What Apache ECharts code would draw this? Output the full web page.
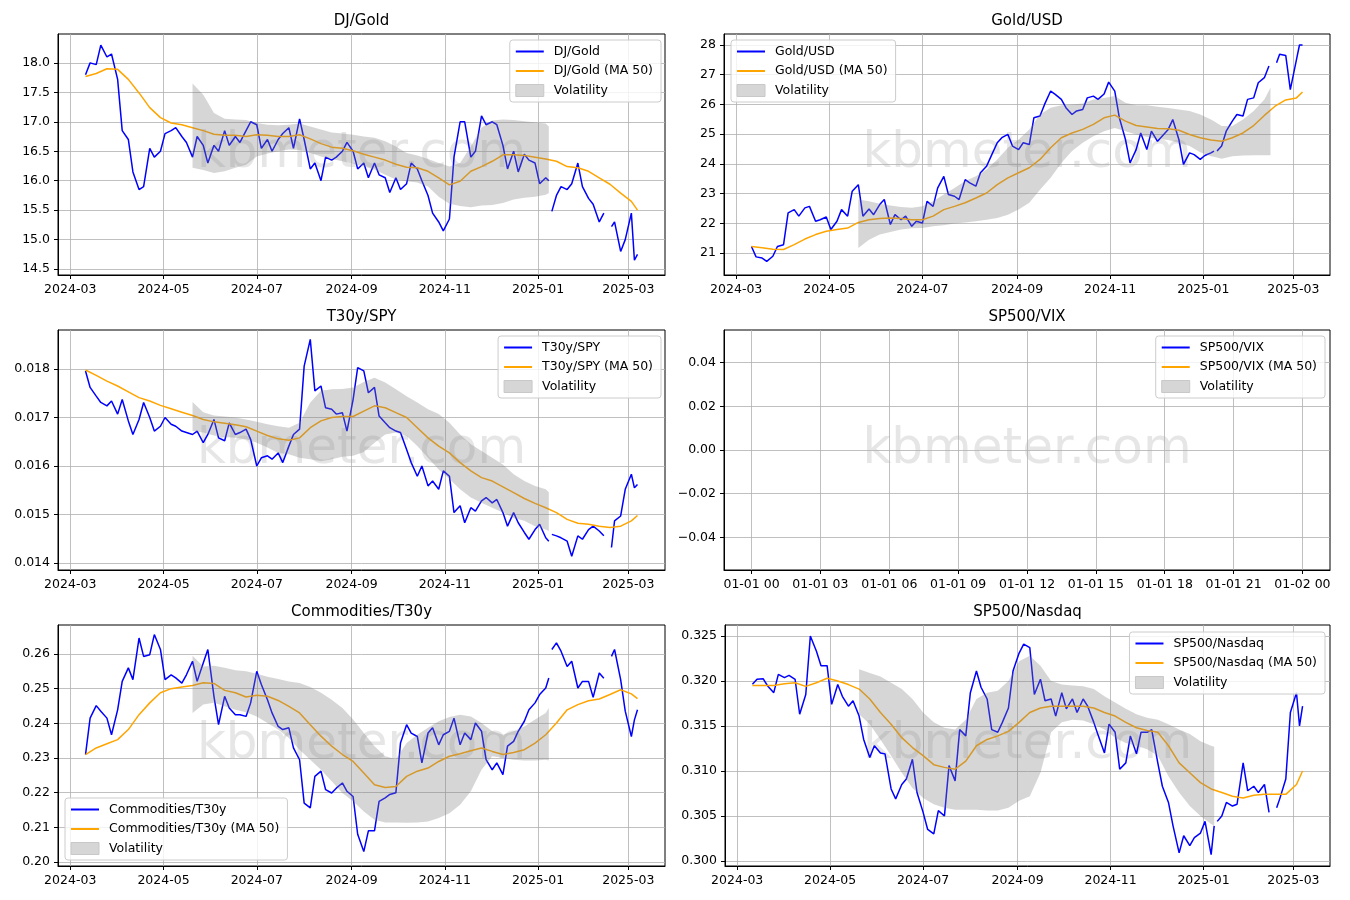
<!DOCTYPE html>
<html>
<head>
<meta charset="utf-8">
<title>Ratios</title>
<script src="https://cdn.jsdelivr.net/npm/echarts@6/dist/echarts.min.js"></script>
<style>
html, body { margin: 0; padding: 0; background: #fff; }
#main { width: 1350px; height: 900px; }
</style>
</head>
<body>
<div id="main"></div>
<script>
// dates of the ratio lines (two per week, nulls are the gaps in the data)
var blueDates = [
  '2024-03-11','2024-03-14','2024-03-18','2024-03-21','2024-03-25','2024-03-28',
  '2024-04-01','2024-04-04','2024-04-08','2024-04-11','2024-04-15','2024-04-18','2024-04-22','2024-04-25','2024-04-29',
  '2024-05-02','2024-05-06','2024-05-09','2024-05-13','2024-05-16','2024-05-20','2024-05-23','2024-05-27','2024-05-30',
  '2024-06-03','2024-06-06','2024-06-10','2024-06-13','2024-06-17','2024-06-20','2024-06-24','2024-06-27',
  '2024-07-01','2024-07-04','2024-07-08','2024-07-11','2024-07-15','2024-07-18','2024-07-22','2024-07-25','2024-07-29',
  '2024-08-01','2024-08-05','2024-08-08','2024-08-12','2024-08-15','2024-08-19','2024-08-22','2024-08-26','2024-08-29',
  '2024-09-02','2024-09-05','2024-09-09','2024-09-12','2024-09-16','2024-09-19','2024-09-23','2024-09-26','2024-09-30',
  '2024-10-03','2024-10-07','2024-10-10','2024-10-14','2024-10-17','2024-10-21','2024-10-24','2024-10-28','2024-10-31',
  '2024-11-04','2024-11-07','2024-11-11','2024-11-14','2024-11-18','2024-11-21','2024-11-25','2024-11-28',
  '2024-12-02','2024-12-05','2024-12-09','2024-12-12','2024-12-16','2024-12-19','2024-12-23','2024-12-26','2024-12-30',
  '2025-01-02','2025-01-06','2025-01-08','2025-01-09','2025-01-10','2025-01-13','2025-01-16','2025-01-20','2025-01-23','2025-01-27','2025-01-30',
  '2025-02-03','2025-02-06','2025-02-10','2025-02-13','2025-02-14','2025-02-18','2025-02-20','2025-02-24','2025-02-27',
  '2025-03-03','2025-03-05','2025-03-07'
];
// dates of the moving averages (weekly)
var maDates = [
  '2024-03-11','2024-03-18','2024-03-25',
  '2024-04-01','2024-04-08','2024-04-15','2024-04-22','2024-04-29',
  '2024-05-06','2024-05-13','2024-05-20','2024-05-27',
  '2024-06-03','2024-06-10','2024-06-17','2024-06-24',
  '2024-07-01','2024-07-08','2024-07-15','2024-07-22','2024-07-29',
  '2024-08-05','2024-08-12','2024-08-19','2024-08-26',
  '2024-09-02','2024-09-09','2024-09-16','2024-09-23','2024-09-30',
  '2024-10-07','2024-10-14','2024-10-21','2024-10-28',
  '2024-11-04','2024-11-11','2024-11-18','2024-11-25',
  '2024-12-02','2024-12-09','2024-12-16','2024-12-23','2024-12-30',
  '2025-01-06','2025-01-13','2025-01-20','2025-01-27',
  '2025-02-03','2025-02-10','2025-02-17','2025-02-24',
  '2025-03-03','2025-03-07'
];
// dates of the volatility bands
var bandDates = [
  '2024-05-20','2024-05-27',
  '2024-06-03','2024-06-10','2024-06-17','2024-06-24',
  '2024-07-01','2024-07-08','2024-07-15','2024-07-22','2024-07-29',
  '2024-08-05','2024-08-12','2024-08-19','2024-08-26',
  '2024-09-02','2024-09-09','2024-09-16','2024-09-23','2024-09-30',
  '2024-10-07','2024-10-14','2024-10-21','2024-10-28',
  '2024-11-04','2024-11-11','2024-11-18','2024-11-25',
  '2024-12-02','2024-12-09','2024-12-16','2024-12-23','2024-12-30',
  '2025-01-06','2025-01-08','2025-01-13','2025-01-20','2025-01-27',
  '2025-02-03','2025-02-10','2025-02-14'
];

// DJ/Gold
var djGold = [
  17.8, 18.0, 17.97, 18.3, 18.1, 18.15,
  17.72, 16.85, 16.7, 16.15, 15.85, 15.9, 16.55, 16.4, 16.5,
  16.8, 16.85, 16.9, 16.75, 16.65, 16.4, 16.75, 16.6, 16.3,
  16.6, 16.5, 16.85, 16.6, 16.75, 16.65, 16.85, 17.0,
  16.95, 16.55, 16.7, 16.5, 16.7, 16.8, 16.9, 16.55, 17.05,
  16.7, 16.2, 16.3, 16.0, 16.4, 16.35, 16.4, 16.5, 16.65,
  16.5, 16.2, 16.3, 16.05, 16.3, 16.1, 16.05, 15.8, 16.05,
  15.85, 15.95, 16.3, 16.2, 16.0, 15.75, 15.45, 15.3, 15.15,
  15.35, 16.4, 17.0, 17.0, 16.4, 16.5, 17.1, 16.95,
  17.0, 16.95, 16.6, 16.2, 16.5, 16.15, 16.45, 16.35, 16.3,
  15.95, 16.05, 16.0, null, 15.48, 15.75, 15.9, 15.85, 15.95, 16.3, 15.9,
  15.7, 15.6, 15.3, 15.45, null, 15.22, 15.3, 14.8, 15.0,
  15.45, 14.65, 14.75
];
var djGoldMA = [
  17.77, 17.82, 17.9,
  17.89, 17.72, 17.49, 17.24, 17.07,
  16.98, 16.95, 16.9, 16.85,
  16.79, 16.77, 16.77, 16.75,
  16.78, 16.77, 16.75, 16.75, 16.78,
  16.71, 16.63, 16.57, 16.55,
  16.51, 16.45, 16.4, 16.35, 16.28,
  16.23, 16.22, 16.16, 16.05,
  15.93, 15.99, 16.16, 16.24,
  16.33, 16.44, 16.44, 16.43, 16.4,
  16.37, 16.33, 16.24, 16.22,
  16.16, 16.05, 15.94, 15.79,
  15.65, 15.5
];
var djGoldUp = [
  17.65, 17.46,
  17.15, 17.05, 17.04, 17.03,
  16.98, 16.95, 16.94, 16.95, 16.97,
  16.92, 16.87, 16.82, 16.8,
  16.78, 16.75, 16.73, 16.67, 16.58,
  16.47, 16.43, 16.37, 16.3,
  16.24, 16.3, 16.58, 16.9,
  17.02, 17.04, 17.03, 17.01, 16.99,
  16.97, 16.92, null, null, null,
  null, null, null
];
var djGoldLo = [
  16.22, 16.18,
  16.13, 16.16, 16.22, 16.27,
  16.41, 16.46, 16.5, 16.53, 16.52,
  16.47, 16.41, 16.37, 16.33,
  16.29, 16.24, 16.19, 16.1, 16.02,
  15.99, 15.97, 15.9, 15.73,
  15.61, 15.57, 15.55, 15.58,
  15.59, 15.62, 15.68, 15.71, 15.73,
  15.76, 15.79, null, null, null,
  null, null, null
];

// Gold/USD
var goldUsd = [
  21.22, 20.87, 20.83, 20.72, 20.89, 21.22,
  21.28, 22.35, 22.46, 22.24, 22.52, 22.57, 22.07, 22.12, 22.21,
  21.79, 22.07, 22.46, 22.24, 23.08, 23.3, 22.24, 22.48, 22.29,
  22.63, 22.8, 21.96, 22.29, 22.12, 22.24, 21.9, 22.07,
  22.01, 22.74, 22.57, 23.19, 23.58, 22.97, 22.91, 22.8, 23.47,
  23.36, 23.25, 23.7, 23.92, 24.26, 24.71, 24.88, 24.99, 24.6,
  24.48, 24.71, 24.65, 25.55, 25.61, 26.0, 26.45, 26.34, 26.17,
  25.89, 25.66, 25.78, 25.83, 26.22, 26.28, 26.17, 26.35, 26.75,
  26.45, 25.55, 24.82, 24.03, 24.48, 25.04, 24.48, 25.1,
  24.76, 24.93, 25.16, 25.49, 24.82, 23.98, 24.37, 24.31, 24.15,
  24.28, 24.37, 24.43, null, 24.43, 24.6, 25.1, 25.44, 25.66, 25.61, 26.17,
  26.22, 26.73, 26.9, 27.29, null, 27.4, 27.69, 27.65, 26.5,
  27.5, 28.0, 28.0
];
var goldUsdMA = [
  21.22, 21.18, 21.13,
  21.12, 21.28, 21.47, 21.62, 21.73,
  21.79, 21.84, 22.03, 22.12,
  22.16, 22.18, 22.16, 22.12,
  22.12, 22.24, 22.46, 22.57, 22.69,
  22.85, 23.02, 23.3, 23.53,
  23.7, 23.87, 24.15, 24.54, 24.88,
  25.04, 25.16, 25.33, 25.55,
  25.64, 25.44, 25.29, 25.24,
  25.19, 25.18, 25.13, 24.99, 24.88,
  24.8, 24.76, 24.88, 25.04,
  25.29, 25.63, 25.94, 26.15,
  26.22, 26.42
];
var goldUsdUp = [
  22.8, 22.74,
  22.66, 22.6, 22.55, 22.52,
  22.57, 22.74, 22.97, 23.19, 23.42,
  23.58, 23.81, 24.15, 24.54,
  24.82, 25.16, 25.66, 25.89, 25.97,
  26.0, 26.03, 26.17, 26.22,
  26.28, 26.06, 25.97, 25.97,
  25.92, 25.88, 25.83, 25.78, 25.66,
  25.49, 25.43, 25.27, 25.27, 25.49,
  25.78, 26.17, 26.56
];
var goldUsdLo = [
  21.17, 21.45,
  21.62, 21.71, 21.79, 21.83,
  21.84, 21.9, 21.93, 21.99, 22.03,
  22.07, 22.12, 22.18, 22.29,
  22.46, 22.69, 23.13, 23.53, 24.03,
  24.43, 24.71, 24.93, 25.1,
  25.21, 25.1, 24.99, 24.91,
  24.84, 24.8, 24.71, 24.6, 24.39,
  24.26, 24.24, 24.17, 24.26, 24.28,
  24.29, 24.29, 24.29
];

// T30y/SPY
var t30Spy = [
  0.01796, 0.01762, 0.01744, 0.01731, 0.01724, 0.01734,
  0.01707, 0.01737, 0.01693, 0.01665, 0.01696, 0.01731, 0.01700, 0.01672, 0.01682,
  0.01700, 0.01686, 0.01682, 0.01672, 0.01669, 0.01665, 0.01672, 0.01648, 0.01665,
  0.01696, 0.01658, 0.01652, 0.01689, 0.01665, 0.01669, 0.01676, 0.01655,
  0.01600, 0.01617, 0.01621, 0.01614, 0.01627, 0.01607, 0.01641, 0.01665, 0.01676,
  0.01806, 0.01861, 0.01755, 0.01765, 0.01720, 0.01717, 0.01707, 0.01710, 0.01672,
  0.01737, 0.01803, 0.01796, 0.01751, 0.01762, 0.01703, 0.01689, 0.01679, 0.01672,
  0.01669, 0.01634, 0.01607, 0.01579, 0.01600, 0.01559, 0.01569, 0.01552, 0.01590,
  0.01579, 0.01504, 0.01518, 0.01483, 0.01514, 0.01507, 0.01528, 0.01535,
  0.01524, 0.01531, 0.01504, 0.01476, 0.01504, 0.01483, 0.01463, 0.01449, 0.01469,
  0.01480, 0.01452, 0.01445, null, 0.01459, 0.01456, 0.01452, 0.01445, 0.01414, 0.01456, 0.01449,
  0.01469, 0.01476, 0.01466, 0.01456, null, 0.01432, 0.01487, 0.01497, 0.01552,
  0.01583, 0.01555, 0.01562
];
var t30SpyMA = [
  0.01798, 0.01787, 0.01775,
  0.01765, 0.01753, 0.01741, 0.01734, 0.01725,
  0.01718, 0.01711, 0.01704, 0.01696,
  0.01691, 0.01688, 0.01685, 0.01681,
  0.01672, 0.01663, 0.01656, 0.01653, 0.01658,
  0.01679, 0.01693, 0.01700, 0.01702,
  0.01702, 0.01713, 0.01724, 0.01720, 0.01710,
  0.01700, 0.01679, 0.01658, 0.01641,
  0.01627, 0.01607, 0.01590, 0.01576,
  0.01569, 0.01557, 0.01545, 0.01533, 0.01523,
  0.01514, 0.01504, 0.01490, 0.01482,
  0.01480, 0.01476, 0.01473, 0.01476,
  0.01487, 0.01498
];
var t30SpyUp = [
  0.01732, 0.01711,
  0.01704, 0.01702, 0.01700, 0.01696,
  0.01691, 0.01686, 0.01682, 0.01679, 0.01689,
  0.01731, 0.01755, 0.01758, 0.01759,
  0.01762, 0.01773, 0.01782, 0.01772, 0.01758,
  0.01744, 0.01731, 0.01717, 0.01707,
  0.01689, 0.01665, 0.01645, 0.01631,
  0.01617, 0.01603, 0.01583, 0.01569, 0.01559,
  0.01552, 0.01546, null, null, null,
  null, null, null
];
var t30SpyLo = [
  0.01672, 0.01669,
  0.01663, 0.01660, 0.01658, 0.01655,
  0.01648, 0.01638, 0.01627, 0.01624, 0.01617,
  0.01614, 0.01610, 0.01614, 0.01619,
  0.01621, 0.01629, 0.01648, 0.01665, 0.01669,
  0.01662, 0.01641, 0.01617, 0.01593,
  0.01573, 0.01552, 0.01535, 0.01524,
  0.01514, 0.01504, 0.01493, 0.01487, 0.01476,
  0.01469, 0.01466, null, null, null,
  null, null, null
];

// Commodities/T30y
var comT30 = [
  0.2310, 0.2415, 0.2451, 0.2435, 0.2415, 0.2367,
  0.2439, 0.2521, 0.2560, 0.2526, 0.2646, 0.2593, 0.2598, 0.2656, 0.2613,
  0.2526, 0.2540, 0.2531, 0.2516, 0.2540, 0.2579, 0.2521, 0.2574, 0.2613,
  0.2478, 0.2396, 0.2478, 0.2444, 0.2425, 0.2425, 0.2420, 0.2459,
  0.2550, 0.2512, 0.2468, 0.2430, 0.2391, 0.2382, 0.2387, 0.2329, 0.2295,
  0.2170, 0.2156, 0.2247, 0.2262, 0.2209, 0.2199, 0.2213, 0.2228, 0.2204,
  0.2189, 0.2080, 0.2030, 0.2090, 0.2090, 0.2175, 0.2185, 0.2195, 0.2200,
  0.2343, 0.2396, 0.2372, 0.2362, 0.2286, 0.2372, 0.2387, 0.2338, 0.2367,
  0.2377, 0.2415, 0.2338, 0.2372, 0.2353, 0.2401, 0.2377, 0.2295,
  0.2266, 0.2286, 0.2252, 0.2334, 0.2348, 0.2377, 0.2406, 0.2439, 0.2459,
  0.2483, 0.2502, 0.2531, null, 0.2613, 0.2632, 0.2608, 0.2564, 0.2579, 0.2502, 0.2521,
  0.2521, 0.2475, 0.2545, 0.2530, null, 0.2593, 0.2613, 0.2526, 0.2435,
  0.2362, 0.2410, 0.2439
];
var comT30MA = [
  0.2310, 0.2329, 0.2341,
  0.2353, 0.2382, 0.2425, 0.2459, 0.2488,
  0.2500, 0.2505, 0.2509, 0.2517,
  0.2515, 0.2495, 0.2488, 0.2476,
  0.2481, 0.2478, 0.2466, 0.2449, 0.2430,
  0.2396, 0.2363, 0.2334, 0.2310,
  0.2290, 0.2257, 0.2223, 0.2215, 0.2218,
  0.2247, 0.2262, 0.2271, 0.2290,
  0.2305, 0.2312, 0.2321, 0.2329,
  0.2319, 0.2310, 0.2316, 0.2324, 0.2343,
  0.2367, 0.2401, 0.2439, 0.2454,
  0.2465, 0.2470, 0.2483, 0.2497,
  0.2485, 0.2471
];
var comT30Up = [
  0.2595, 0.2564,
  0.2566, 0.2560, 0.2553, 0.2550,
  0.2543, 0.2534, 0.2528, 0.2521, 0.2516,
  0.2505, 0.2488, 0.2468, 0.2444,
  0.2411, 0.2372, 0.2334, 0.2305, 0.2297,
  0.2343, 0.2367, 0.2387, 0.2406,
  0.2418, 0.2425, 0.2420, 0.2401,
  0.2377, 0.2367, 0.2377, 0.2391, 0.2411,
  0.2430, 0.2444, null, null, null,
  null, null, null
];
var comT30Lo = [
  0.2430, 0.2454,
  0.2459, 0.2449, 0.2439, 0.2432,
  0.2420, 0.2401, 0.2382, 0.2358, 0.2324,
  0.2295, 0.2266, 0.2233, 0.2199,
  0.2175, 0.2146, 0.2122, 0.2114, 0.2114,
  0.2113, 0.2114, 0.2117, 0.2127,
  0.2141, 0.2165, 0.2204, 0.2266,
  0.2305, 0.2300, 0.2295, 0.2293, 0.2293,
  0.2295, 0.2293, null, null, null,
  null, null, null
];

// SP500/Nasdaq
var spNdq = [
  0.31963, 0.32019, 0.32026, 0.31944, 0.31870, 0.32074,
  0.32037, 0.32063, 0.32019, 0.31630, 0.31850, 0.32500, 0.32330, 0.32170, 0.32170,
  0.31740, 0.31960, 0.31830, 0.31720, 0.31780, 0.31610, 0.31350, 0.31150, 0.31280,
  0.31200, 0.31190, 0.30800, 0.30690, 0.30850, 0.30910, 0.31130, 0.30760,
  0.30540, 0.30350, 0.30300, 0.30560, 0.30500, 0.31060, 0.30890, 0.31460, 0.31390,
  0.31870, 0.32110, 0.31930, 0.31800, 0.31460, 0.31430, 0.31540, 0.31700, 0.32110,
  0.32310, 0.32410, 0.32370, 0.31850, 0.32020, 0.31780, 0.31800, 0.31610, 0.31870,
  0.31690, 0.31800, 0.31650, 0.31800, 0.31720, 0.31540, 0.31390, 0.31200, 0.31520,
  0.31430, 0.31020, 0.31090, 0.31390, 0.31190, 0.31430, 0.31430, 0.31460,
  0.31090, 0.30830, 0.30650, 0.30390, 0.30090, 0.30280, 0.30170, 0.30260, 0.30310,
  0.30440, 0.30070, 0.30390, null, 0.30440, 0.30500, 0.30650, 0.30610, 0.30630, 0.31090, 0.30780,
  0.30830, 0.30760, 0.30850, 0.30540, null, 0.30590, 0.30690, 0.30910, 0.31650,
  0.31870, 0.31500, 0.31720
];
var spNdqMA = [
  0.3195, 0.3195, 0.3195,
  0.3197, 0.3198, 0.3194, 0.3198, 0.3203,
  0.3200, 0.3196, 0.3191, 0.3180,
  0.3165, 0.3152, 0.3137, 0.3126,
  0.3117, 0.3107, 0.3104, 0.3102, 0.3111,
  0.3128, 0.3135, 0.3139, 0.3144,
  0.3154, 0.3165, 0.3170, 0.3172, 0.3172,
  0.3172, 0.3172, 0.3170, 0.3165,
  0.3161, 0.3154, 0.3148, 0.3145,
  0.3143, 0.3128, 0.3109, 0.3098, 0.3087,
  0.3080, 0.3076, 0.3072, 0.3070,
  0.3073, 0.3074, 0.3074, 0.3074,
  0.3085, 0.3100
];
var spNdqUp = [
  0.3213, 0.3209,
  0.3205, 0.3198, 0.3191, 0.3180,
  0.3165, 0.3154, 0.3148, 0.3146, 0.3157,
  0.3180, 0.3187, 0.3189, 0.3200,
  0.3222, 0.3228, 0.3217, 0.3200, 0.3196,
  0.3195, 0.3194, 0.3191, 0.3183,
  0.3176, 0.3169, 0.3163, 0.3159,
  0.3157, 0.3152, 0.3146, 0.3141, 0.3133,
  0.3128, 0.3127, null, null, null,
  null, null, null
];
var spNdqLo = [
  0.3163, 0.3152,
  0.3135, 0.3117, 0.3098, 0.3081,
  0.3070, 0.3063, 0.3059, 0.3057, 0.3057,
  0.3057, 0.3056, 0.3056, 0.3059,
  0.3067, 0.3072, 0.3098, 0.3143, 0.3154,
  0.3157, 0.3156, 0.3152, 0.3146,
  0.3137, 0.3131, 0.3128, 0.3124,
  0.3117, 0.3094, 0.3076, 0.3061, 0.3050,
  0.3041, 0.3039, null, null, null,
  null, null, null
];

// tick labels
var monthTicks = ['2024-03-01', '2024-05-01', '2024-07-01', '2024-09-01', '2024-11-01', '2025-01-01', '2025-03-01'];
var hourTicks = [0, 3, 6, 9, 12, 15, 18, 21, 24];
var djTicks = [14.5, 15.0, 15.5, 16.0, 16.5, 17.0, 17.5, 18.0];
var goldTicks = [21, 22, 23, 24, 25, 26, 27, 28];
var t30Ticks = [0.014, 0.015, 0.016, 0.017, 0.018];
var vixTicks = [-0.04, -0.02, 0, 0.02, 0.04];
var comTicks = [0.20, 0.21, 0.22, 0.23, 0.24, 0.25, 0.26];
var ndqTicks = [0.300, 0.305, 0.310, 0.315, 0.320, 0.325];

var FONT = 'DejaVu Sans';
var BAND = 'rgba(128,128,128,0.32)';

var panels = [
  {name: 'DJ/Gold', blue: djGold, ma: djGoldMA, up: djGoldUp, lo: djGoldLo,
   yMin: 14.40, yMax: 18.49, ticks: djTicks, dec: 1,
   grid: [58, 34, 607, 241], legend: {right: 689, top: 40}},
  {name: 'Gold/USD', blue: goldUsd, ma: goldUsdMA, up: goldUsdUp, lo: goldUsdLo,
   yMin: 20.26, yMax: 28.37, ticks: goldTicks, dec: 0,
   grid: [724, 34, 606, 241], legend: {left: 731, top: 40}},
  {name: 'T30y/SPY', blue: t30Spy, ma: t30SpyMA, up: t30SpyUp, lo: t30SpyLo,
   yMin: 0.013856, yMax: 0.018804, ticks: t30Ticks, dec: 3,
   grid: [58, 330, 607, 240], legend: {right: 689, top: 336}},
  {name: 'SP500/VIX', empty: true,
   yMin: -0.055, yMax: 0.055, ticks: vixTicks, dec: 2,
   grid: [724, 330, 606, 240], legend: {right: 25, top: 336}},
  {name: 'Commodities/T30y', blue: comT30, ma: comT30MA, up: comT30Up, lo: comT30Lo,
   yMin: 0.19885, yMax: 0.26836, ticks: comTicks, dec: 2,
   grid: [58, 625, 607, 241], legend: {left: 65, top: 798}},
  {name: 'SP500/Nasdaq', blue: spNdq, ma: spNdqMA, up: spNdqUp, lo: spNdqLo,
   yMin: 0.29944, yMax: 0.32622, ticks: ndqTicks, dec: 3,
   grid: [725, 625, 605, 241], legend: {right: 25, top: 632}}
];

// 'YYYY-MM-DD' -> local timestamp
function ts(s) {
  var p = s.split('-');
  return new Date(+p[0], +p[1] - 1, +p[2]).getTime();
}
function pair(dates, vals) {
  return dates.map(function (d, i) {
    var v = vals[i];
    return [ts(d), v == null ? null : v];
  });
}
function pad(n) { return (n < 10 ? '0' : '') + n; }
function labelStyle(margin) {
  return {fontFamily: FONT, fontSize: 12.5, color: '#000', margin: margin};
}
function axisLine() {
  return {show: true, onZero: false, lineStyle: {color: '#000', width: 1}};
}
function splitLine() {
  return {show: true, lineStyle: {color: '#b0b0b0', width: 0.8}};
}

var monthTs = monthTicks.map(ts);

function dateAxis(i) {
  var lab = labelStyle(8);
  lab.customValues = monthTs;
  lab.formatter = function (v) {
    var d = new Date(v);
    return d.getFullYear() + '-' + pad(d.getMonth() + 1);
  };
  return {
    type: 'value', gridIndex: i,
    min: ts('2024-02-22'), max: ts('2025-03-25'),
    axisLine: axisLine(),
    axisTick: {show: true, length: 4, customValues: monthTs, lineStyle: {color: '#000'}},
    axisLabel: lab,
    splitLine: splitLine()
  };
}
function hourAxis(i) {
  var lab = labelStyle(8);
  lab.customValues = hourTicks;
  lab.formatter = function (v) {
    return v >= 24 ? '01-02 00' : '01-01 ' + pad(v);
  };
  return {
    type: 'value', gridIndex: i, min: -1.2, max: 25.2,
    axisLine: axisLine(),
    axisTick: {show: true, length: 4, customValues: hourTicks, lineStyle: {color: '#000'}},
    axisLabel: lab,
    splitLine: splitLine()
  };
}
function valueAxis(i, p) {
  var lab = labelStyle(8);
  lab.customValues = p.ticks;
  lab.formatter = function (v) {
    var s = Math.abs(v).toFixed(p.dec);
    return v < -1e-12 ? '\u2212' + s : s;
  };
  return {
    type: 'value', gridIndex: i, min: p.yMin, max: p.yMax,
    axisLine: axisLine(),
    axisTick: {show: true, length: 4, customValues: p.ticks, lineStyle: {color: '#000'}},
    axisLabel: lab,
    splitLine: splitLine()
  };
}

// volatility band: one polygon between the upper and lower edges
function bandSeries(i, p) {
  var pts = [];
  if (!p.empty) {
    bandDates.forEach(function (d, k) {
      if (p.up[k] != null && p.lo[k] != null) pts.push([ts(d), p.lo[k], p.up[k]]);
    });
  }
  return {
    name: 'Volatility', type: 'custom', xAxisIndex: i, yAxisIndex: i,
    silent: true, z: 4, data: pts, encode: {x: 0, y: [1, 2]},
    itemStyle: {color: BAND},
    renderItem: function (params, api) {
      if (params.dataIndex !== 0) return null;
      var top = [], bot = [];
      pts.forEach(function (q) {
        top.push(api.coord([q[0], q[2]]));
        bot.push(api.coord([q[0], q[1]]));
      });
      return {type: 'polygon', shape: {points: top.concat(bot.reverse())},
        style: {fill: BAND}};
    }
  };
}

var grids = [], xAxes = [], yAxes = [], legends = [], series = [], graphics = [];

panels.forEach(function (p, i) {
  var g = p.grid;
  grids.push({left: g[0], top: g[1], width: g[2], height: g[3], show: true,
    borderColor: '#000', borderWidth: 1, backgroundColor: 'transparent',
    containLabel: false, outerBoundsMode: 'none'});
  xAxes.push(p.empty ? hourAxis(i) : dateAxis(i));
  yAxes.push(valueAxis(i, p));

  var maName = p.name + ' (MA 50)';
  series.push({
    name: p.name, type: 'line', xAxisIndex: i, yAxisIndex: i,
    data: p.empty ? [] : pair(blueDates, p.blue), symbol: 'none', silent: true,
    color: '#0000ff', lineStyle: {color: '#0000ff', width: 1.5}, z: 3
  });
  series.push({
    name: maName, type: 'line', xAxisIndex: i, yAxisIndex: i,
    data: p.empty ? [] : pair(maDates, p.ma), symbol: 'none', silent: true,
    color: '#ffa500', lineStyle: {color: '#ffa500', width: 1.5}, z: 3
  });
  series.push(bandSeries(i, p));

  var lg = {
    orient: 'vertical', selectedMode: false,
    itemWidth: 28, itemHeight: 12, itemGap: 6.5,
    padding: [5, 8, 5, 5],
    backgroundColor: 'rgba(255,255,255,0.8)',
    borderColor: '#cccccc', borderWidth: 1, borderRadius: 3,
    textStyle: {fontFamily: FONT, fontSize: 12.5, color: '#000', padding: [0, 0, 0, 5]},
    data: [
      {name: p.name, itemStyle: {opacity: 0}, lineStyle: {color: '#0000ff', width: 2}},
      {name: maName, itemStyle: {opacity: 0}, lineStyle: {color: '#ffa500', width: 2}},
      {name: 'Volatility', icon: 'rect',
       itemStyle: {color: '#d6d6d6', borderColor: '#c8c8c8', borderWidth: 1, opacity: 1}}
    ]
  };
  for (var k in p.legend) lg[k] = p.legend[k];
  legends.push(lg);

  var cx = g[0] + g[2] / 2;
  graphics.push({
    type: 'text', x: cx, y: g[1] - 13, silent: true,
    style: {text: p.name, align: 'center', verticalAlign: 'middle',
      fontSize: 15, fontFamily: FONT, fill: '#000'}
  });
  graphics.push({
    type: 'text', x: cx, y: g[1] + g[3] / 2, silent: true,
    style: {text: 'kbmeter.com', align: 'center', verticalAlign: 'middle',
      fontSize: 50, fontFamily: FONT, fill: 'rgba(128,128,128,0.2)'}
  });
});

var chart = echarts.init(document.getElementById('main'), null, {renderer: 'canvas'});
chart.setOption({
  animation: false,
  backgroundColor: '#ffffff',
  textStyle: {fontFamily: FONT},
  grid: grids,
  xAxis: xAxes,
  yAxis: yAxes,
  legend: legends,
  series: series,
  graphic: graphics
});
</script>
</body>
</html>
